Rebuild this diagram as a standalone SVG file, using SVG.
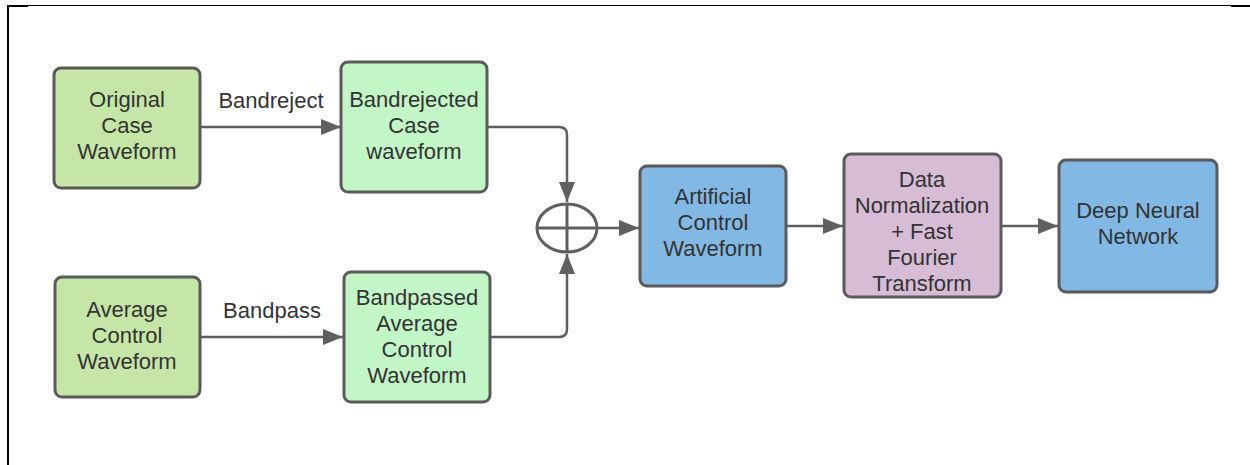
<svg xmlns="http://www.w3.org/2000/svg" width="1250" height="465" viewBox="0 0 1250 465">
  <style>
    .box { stroke: #5a5a5a; stroke-width: 3; }
    .t { font-family: "Liberation Sans", Arial, sans-serif; font-size: 22px; fill: #333; text-anchor: middle; }
    .c { fill: none; stroke: #5f5f5f; stroke-width: 2.5; }
    .frame { stroke: #000; fill: none; }
  </style>
  <defs>
    <marker id="ah" viewBox="0 0 20 16" refX="20" refY="8" markerWidth="20" markerHeight="16" markerUnits="userSpaceOnUse" orient="auto">
      <path d="M0,0 L20,8 L0,16 Z" fill="#5f5f5f"/>
    </marker>
  </defs>
  <rect width="1250" height="465" fill="#fff"/>
  <g id="frame">
    <line class="frame" x1="7" y1="5.5" x2="1250" y2="5.5" stroke-width="1"/>
    <line class="frame" x1="7" y1="6" x2="28" y2="6" stroke-width="2"/>
    <line class="frame" x1="1231" y1="6" x2="1250" y2="6" stroke-width="2"/>
    <line class="frame" x1="8" y1="5" x2="8" y2="465" stroke-width="2"/>
  </g>
  <g id="connectors">
    <line class="c" x1="200" y1="127" x2="341" y2="127" marker-end="url(#ah)"/>
    <line class="c" x1="200" y1="337" x2="343" y2="337" marker-end="url(#ah)"/>
    <path class="c" d="M487,127 H559 Q567,127 567,135 V202" marker-end="url(#ah)"/>
    <path class="c" d="M490,337 H559 Q567,337 567,329 V254" marker-end="url(#ah)"/>
    <line class="c" x1="597" y1="228" x2="639" y2="228" marker-end="url(#ah)"/>
    <line class="c" x1="786" y1="226" x2="843" y2="226" marker-end="url(#ah)"/>
    <line class="c" x1="1001" y1="226" x2="1058" y2="226" marker-end="url(#ah)"/>
    <text class="t" x="271" y="108">Bandreject</text>
    <text class="t" x="272" y="318">Bandpass</text>
  </g>
  <g id="sum">
    <ellipse cx="567" cy="228" rx="30" ry="24" fill="#fff" stroke="#5f5f5f" stroke-width="3"/>
    <line x1="537" y1="228" x2="597" y2="228" stroke="#5f5f5f" stroke-width="3"/>
    <line x1="567" y1="204" x2="567" y2="252" stroke="#5f5f5f" stroke-width="3"/>
  </g>
  <g id="original">
    <rect class="box" x="54" y="68" width="146" height="120" rx="7" fill="#c5e6a6"/>
    <text class="t" x="127" y="107">Original</text>
    <text class="t" x="127" y="133">Case</text>
    <text class="t" x="127" y="159">Waveform</text>
  </g>
  <g id="bandrejected">
    <rect class="box" x="341" y="62" width="146" height="130" rx="7" fill="#c3f6c7"/>
    <text class="t" x="414" y="107">Bandrejected</text>
    <text class="t" x="414" y="133">Case</text>
    <text class="t" x="414" y="159">waveform</text>
  </g>
  <g id="average">
    <rect class="box" x="55" y="277" width="145" height="120" rx="7" fill="#c5e6a6"/>
    <text class="t" x="127" y="317">Average</text>
    <text class="t" x="127" y="343">Control</text>
    <text class="t" x="127" y="369">Waveform</text>
  </g>
  <g id="bandpassed">
    <rect class="box" x="344" y="272" width="146" height="130" rx="7" fill="#c3f6c7"/>
    <text class="t" x="417" y="305">Bandpassed</text>
    <text class="t" x="417" y="331">Average</text>
    <text class="t" x="417" y="357">Control</text>
    <text class="t" x="417" y="383">Waveform</text>
  </g>
  <g id="artificial">
    <rect class="box" x="640" y="166" width="146" height="120" rx="7" fill="#82b8e4"/>
    <text class="t" x="713" y="204">Artificial</text>
    <text class="t" x="713" y="230">Control</text>
    <text class="t" x="713" y="256">Waveform</text>
  </g>
  <g id="normalization">
    <rect class="box" x="844" y="154" width="157" height="143" rx="7" fill="#d6bcd5"/>
    <text class="t" x="922" y="187">Data</text>
    <text class="t" x="922" y="213">Normalization</text>
    <text class="t" x="922" y="239">+ Fast</text>
    <text class="t" x="922" y="265">Fourier</text>
    <text class="t" x="922" y="291">Transform</text>
  </g>
  <g id="dnn">
    <rect class="box" x="1059" y="160" width="158" height="132" rx="7" fill="#82b8e4"/>
    <text class="t" x="1138" y="218">Deep Neural</text>
    <text class="t" x="1138" y="244">Network</text>
  </g>
</svg>
